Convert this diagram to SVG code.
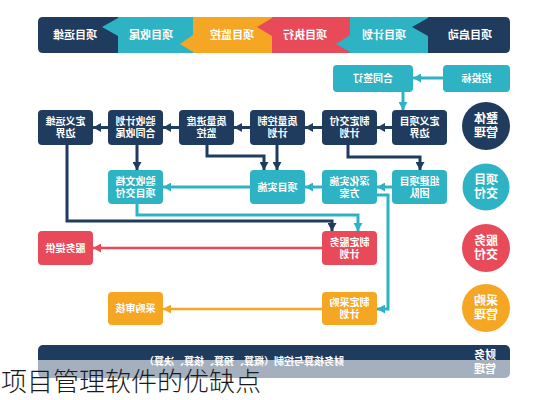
<svg xmlns="http://www.w3.org/2000/svg" width="544" height="400" viewBox="0 0 544 400">
<defs>
<style>
.nv{fill:#1f3b5e}.tl{fill:#2db3c3}.rd{fill:#e84a5a}.og{fill:#f5a623}
.t{font-family:"Liberation Sans","Noto Sans CJK SC",sans-serif;fill:#fff;font-weight:bold;font-size:10px;text-anchor:middle}
.h{font-size:11px}.c{font-size:12px}
.ln{fill:none;stroke-width:3;stroke-linejoin:miter}
.ln-nv{stroke:#1f3b5e;marker-end:url(#aN)}
.ln-tl{stroke:#2db3c3;marker-end:url(#aT)}
.ln-rd{stroke:#e84a5a;stroke-width:2.5;marker-end:url(#aR)}
.ln-og{stroke:#f5a623;stroke-width:2.5;marker-end:url(#aO)}
</style>
<marker id="aN" markerUnits="userSpaceOnUse" markerWidth="9" markerHeight="9" refX="8" refY="4.5" orient="auto"><path d="M0,0 L8,4.5 L0,9 z" fill="#1f3b5e"/></marker>
<marker id="aT" markerUnits="userSpaceOnUse" markerWidth="9" markerHeight="9" refX="8" refY="4.5" orient="auto"><path d="M0,0 L8,4.5 L0,9 z" fill="#2db3c3"/></marker>
<marker id="aR" markerUnits="userSpaceOnUse" markerWidth="9" markerHeight="9" refX="8" refY="4.5" orient="auto"><path d="M0,0 L8,4.5 L0,9 z" fill="#e84a5a"/></marker>
<marker id="aO" markerUnits="userSpaceOnUse" markerWidth="9" markerHeight="9" refX="8" refY="4.5" orient="auto"><path d="M0,0 L8,4.5 L0,9 z" fill="#f5a623"/></marker>
</defs>
<rect width="544" height="400" fill="#fff"/>
<g transform="matrix(-1 0 0 1 544 0)">
<g id="phases">
<path class="nv" d="M426,17 H501 Q506,17 506,22 V48 Q506,53 501,53 H426 z"/>
<path class="tl" d="M351,17 H426 V53 H351 z M426,18 L442,27 L426,36 z"/>
<path class="og" d="M272,17 H351 V53 H272 z M351,35 L364,44 L351,52 z"/>
<path class="rd" d="M194,17 H272 V53 H194 z M272,18 L287,27 L272,36 z"/>
<path class="tl" d="M116,17 H194 V53 H116 z M194,35 L208,44 L194,52 z"/>
<path class="nv" d="M39,17 H116 V53 H39 Q34,53 34,48 V22 Q34,17 39,17 z M116,18 L132,27 L116,36 z"/>
<text class="t h" x="74" y="39">项目启动</text>
<text class="t h" x="160" y="39">项目计划</text>
<text class="t h" x="239" y="39">项目执行</text>
<text class="t h" x="312" y="39">项目监控</text>
<text class="t h" x="393" y="39">项目收尾</text>
<text class="t h" x="469" y="39">项目运维</text>
</g>
<g id="connectors">
<path class="ln ln-tl" d="M101,78 H131"/>
<path class="ln ln-tl" d="M141,92 V110"/>
<path class="ln ln-nv" d="M152,127.5 H167"/>
<path class="ln ln-nv" d="M222,127.5 H239"/>
<path class="ln ln-nv" d="M294,127.5 H310"/>
<path class="ln ln-nv" d="M365,127.5 H381"/>
<path class="ln ln-nv" d="M436,127.5 H451"/>
<path class="ln ln-nv" d="M196,145 V157 H124 V170"/>
<path class="ln ln-nv" d="M267,145 V170"/>
<path class="ln ln-nv" d="M337,145 V156 H280 V170"/>
<path class="ln ln-nv" d="M407,145 V170"/>
<path class="ln ln-tl" d="M152,187 H167"/>
<path class="ln ln-tl" d="M222,187 H239"/>
<path class="ln ln-tl" d="M294,187 H381"/>
<path class="ln ln-nv" d="M477,145 V221 H212 V231"/>
<path class="ln ln-tl" d="M407,204 V215 H186 V231"/>
<path class="ln ln-tl" d="M167,195 H156 V309 H167"/>
<path class="ln ln-rd" d="M222,248 H451"/>
<path class="ln ln-og" d="M222,309 H381"/>
</g>
<g id="n-bid"><rect class="tl" x="34" y="65" width="67" height="27" rx="4"/><text class="t" x="67.5" y="82">招投标</text></g>
<g id="n-contract"><rect class="tl" x="131" y="65" width="80" height="27" rx="4"/><text class="t" x="171" y="82">合同签订</text></g>
<g id="n-scope"><rect class="nv" x="97" y="110" width="55" height="35" rx="4"/><text class="t" x="124.5" y="125">定义项目</text><text class="t" x="124.5" y="137">边界</text></g>
<g id="n-delivplan"><rect class="nv" x="167" y="110" width="55" height="35" rx="4"/><text class="t" x="194.5" y="125">制定交付</text><text class="t" x="194.5" y="137">计划</text></g>
<g id="n-qplan"><rect class="nv" x="239" y="110" width="55" height="35" rx="4"/><text class="t" x="266.5" y="125">质量控制</text><text class="t" x="266.5" y="137">计划</text></g>
<g id="n-qmon"><rect class="nv" x="310" y="110" width="55" height="35" rx="4"/><text class="t" x="337.5" y="125">质量进度</text><text class="t" x="337.5" y="137">监控</text></g>
<g id="n-accplan"><rect class="nv" x="381" y="110" width="55" height="35" rx="4"/><text class="t" x="408.5" y="125">验收计划</text><text class="t" x="408.5" y="137">合同收尾</text></g>
<g id="n-opscope"><rect class="nv" x="451" y="110" width="55" height="35" rx="4"/><text class="t" x="478.5" y="125">定义运维</text><text class="t" x="478.5" y="137">边界</text></g>
<g id="n-team"><rect class="tl" x="97" y="170" width="55" height="34" rx="4"/><text class="t" x="124.5" y="184.5">组建项目</text><text class="t" x="124.5" y="196.5">团队</text></g>
<g id="n-design"><rect class="tl" x="167" y="170" width="55" height="34" rx="4"/><text class="t" x="194.5" y="184.5">深化实施</text><text class="t" x="194.5" y="196.5">方案</text></g>
<g id="n-impl"><rect class="tl" x="239" y="170" width="55" height="34" rx="4"/><text class="t" x="266.5" y="190.5">项目实施</text></g>
<g id="n-accdoc"><rect class="tl" x="381" y="170" width="55" height="34" rx="4"/><text class="t" x="408.5" y="184.5">验收文档</text><text class="t" x="408.5" y="196.5">项目交付</text></g>
<g id="n-svcplan"><rect class="rd" x="167" y="231" width="55" height="34" rx="4"/><text class="t" x="194.5" y="245.5">制定服务</text><text class="t" x="194.5" y="257.5">计划</text></g>
<g id="n-svc"><rect class="rd" x="451" y="231" width="55" height="34" rx="4"/><text class="t" x="478.5" y="251.5">服务提供</text></g>
<g id="n-procplan"><rect class="og" x="167" y="292" width="55" height="33" rx="4"/><text class="t" x="194.5" y="306">制定采购</text><text class="t" x="194.5" y="318">计划</text></g>
<g id="n-procaudit"><rect class="og" x="381" y="292" width="55" height="33" rx="4"/><text class="t" x="408.5" y="312">采购审核</text></g>
<g id="c-overall"><circle class="nv" cx="58" cy="126" r="24"/><text class="t c" x="58" y="123">整体</text><text class="t c" x="58" y="137">管理</text></g>
<g id="c-deliv"><circle class="tl" cx="58" cy="187" r="23.5"/><text class="t c" x="58" y="184">项目</text><text class="t c" x="58" y="198">交付</text></g>
<g id="c-svc"><circle class="rd" cx="58" cy="248" r="24"/><text class="t c" x="58" y="245">服务</text><text class="t c" x="58" y="259">交付</text></g>
<g id="c-proc"><circle class="og" cx="58" cy="308" r="24"/><text class="t c" x="58" y="305">采购</text><text class="t c" x="58" y="319">管理</text></g>
<g id="finance"><rect class="nv" x="34" y="345" width="472" height="33" rx="5"/><text class="t" x="300" y="365">财务核算与控制（概算、预算、核算、决算）</text><text class="t h" x="59" y="359">财务</text><text class="t h" x="59" y="373">管理</text></g>
</g>
<rect x="0" y="360" width="544" height="40" fill="#fff" fill-opacity="0.6"/>
<text x="1" y="391" font-family="Liberation Sans, Noto Sans CJK SC, sans-serif" font-weight="300" font-size="26" fill="#1a1a1a">项目管理软件的优缺点</text>
</svg>
